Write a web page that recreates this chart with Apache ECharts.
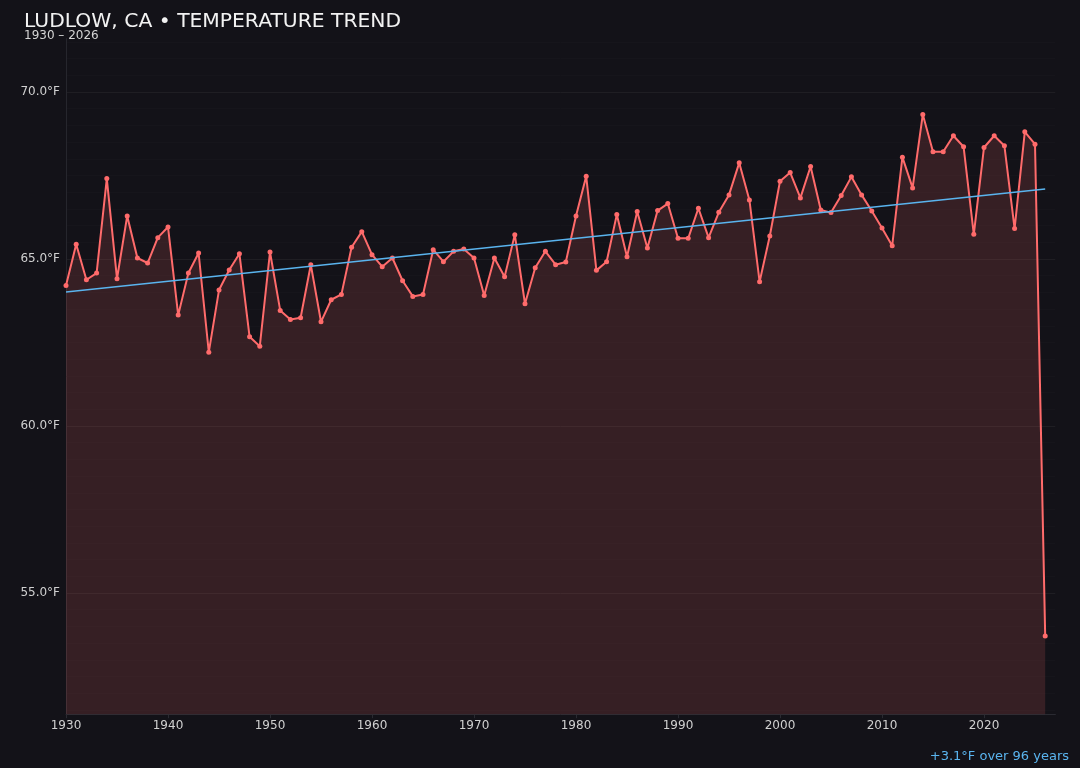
<!DOCTYPE html>
<html>
<head>
<meta charset="utf-8">
<script src="https://cdn.jsdelivr.net/npm/echarts@6/dist/echarts.min.js"></script>
<style>
html,body{margin:0;padding:0;background:#131218;}
#c{width:1080px;height:768px;}
</style>
</head>
<body>
<div id="c"></div>
<script>
const years = [1930,1931,1932,1933,1934,1935,1936,1937,1938,1939,
1940,1941,1942,1943,1944,1945,1946,1947,1948,1949,
1950,1951,1952,1953,1954,1955,1956,1957,1958,1959,
1960,1961,1962,1963,1964,1965,1966,1967,1968,1969,
1970,1971,1972,1973,1974,1975,1976,1977,1978,1979,
1980,1981,1982,1983,1984,1985,1986,1987,1988,1989,
1990,1991,1992,1993,1994,1995,1996,1997,1998,1999,
2000,2001,2002,2003,2004,2005,2006,2007,2008,2009,
2010,2011,2012,2013,2014,2015,2016,2017,2018,2019,
2020,2021,2022,2023,2024,2025,2026];

const temps = [64.21,65.44,64.38,64.58,67.41,64.41,66.29,65.03,64.88,65.64,
65.96,63.32,64.58,65.18,62.21,64.07,64.67,65.16,62.67,62.39,
65.21,63.46,63.19,63.24,64.83,63.12,63.78,63.94,65.35,65.82,
65.13,64.77,65.03,64.35,63.88,63.94,65.28,64.92,65.23,65.30,
65.03,63.91,65.03,64.47,65.73,63.66,64.74,65.23,64.83,64.91,
66.29,67.48,64.66,64.92,66.33,65.07,66.42,65.33,66.45,66.66,
65.62,65.62,66.52,65.64,66.40,66.92,67.88,66.77,64.32,65.69,
67.33,67.59,66.83,67.77,66.47,66.39,66.90,67.46,66.92,66.44,
65.93,65.40,68.05,67.13,69.33,68.21,68.21,68.69,68.36,65.74,
68.34,68.69,68.39,65.91,68.81,68.44,53.71];

const trendYears = [1930, 2026];
const trendTemps = [64.01, 67.10];

const titleText = 'LUDLOW, CA \u2022 TEMPERATURE TREND';
const subtitleText = '1930 \u2013 2026';
const noteText = '+3.1\u00b0F over 96 years';

const mainData = years.map((y, i) => [y, temps[i]]);
const trendData = trendYears.map((y, i) => [y, trendTemps[i]]);

const chart = echarts.init(document.getElementById('c'), null, {renderer: 'canvas'});
const font = 'DejaVu Sans';
const yMin = 51.37, yMax = 71.6;
chart.setOption({
  backgroundColor: '#131218',
  animation: false,
  textStyle: {fontFamily: font},
  title: [
    {text: titleText, left: 24, top: 11.5, padding: 0,
     textStyle: {color: '#f2f2f2', fontSize: 20.3, fontWeight: 'normal', fontFamily: font}},
    {text: subtitleText, left: 24, top: 29.5, padding: 0,
     textStyle: {color: '#d4d4d4', fontSize: 12, fontWeight: 'normal', fontFamily: font}},
    {text: noteText, right: 11, top: 750, padding: 0,
     textStyle: {color: '#5ab4ee', fontSize: 13, fontWeight: 'normal', fontFamily: font}}
  ],
  grid: {left: 66, right: 24.6, top: 38.6, bottom: 53.8, containLabel: false},
  xAxis: {
    type: 'value', min: 1930, max: 2027, interval: 10,
    axisLine: {show: true, lineStyle: {color: '#2a2a31', width: 1}},
    axisTick: {show: true, length: 4, lineStyle: {color: '#2a2a31'}},
    axisLabel: {color: '#d0d0d0', fontSize: 12, margin: 6, fontFamily: font,
      showMaxLabel: false,
      formatter: v => (v % 10 === 0 ? String(v) : '')},
    splitLine: {show: false}
  },
  yAxis: [
    {
      type: 'value', min: yMin, max: yMax, splitNumber: 4,
      axisLine: {show: true, lineStyle: {color: '#26262d', width: 1}},
      axisTick: {show: false},
      axisLabel: {color: '#d0d0d0', fontSize: 12, margin: 6, fontFamily: font,
        showMinLabel: false, showMaxLabel: false,
        formatter: v => (Math.abs(v % 5) < 1e-6 ? v.toFixed(1) + '\u00b0F' : '')},
      splitLine: {show: true, showMinLine: false, showMaxLine: false,
        lineStyle: {color: 'rgba(255,255,255,0.04)', width: 1}},
      z: 1
    },
    {
      type: 'value', min: yMin, max: yMax, splitNumber: 40, position: 'left',
      axisLine: {show: false}, axisTick: {show: false}, axisLabel: {show: false},
      splitLine: {show: true, showMinLine: false, showMaxLine: false,
        lineStyle: {color: 'rgba(255,255,255,0.016)', width: 1}},
      z: 0
    }
  ],
  series: [
    {
      type: 'line', data: mainData, yAxisIndex: 0,
      symbol: 'circle', symbolSize: 5,
      itemStyle: {color: '#ff6b6b'},
      lineStyle: {color: '#ff6b6b', width: 2},
      areaStyle: {color: '#ff6b6b', opacity: 0.15, origin: 'start'},
      z: 2
    },
    {
      type: 'line', data: trendData, yAxisIndex: 0,
      symbol: 'none',
      lineStyle: {color: '#5ab4ee', width: 1.5},
      z: 3
    }
  ]
});
</script>
</body>
</html>
